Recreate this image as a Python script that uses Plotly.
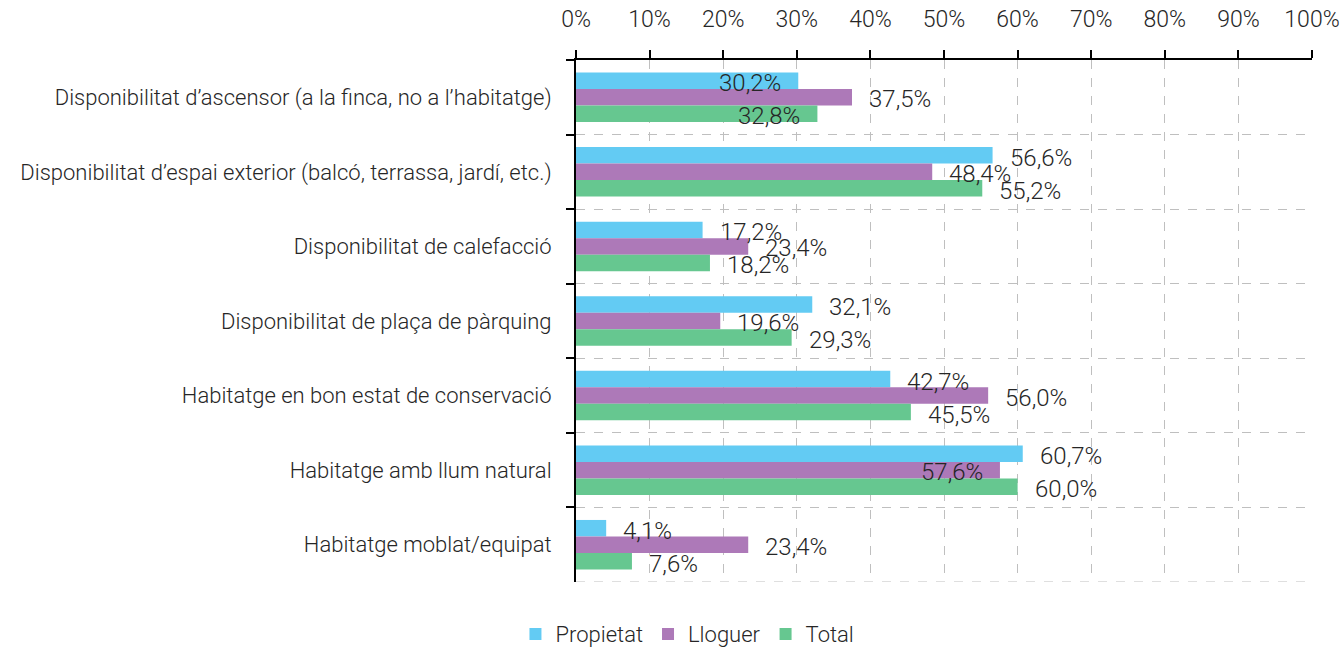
import plotly.graph_objects as go

# Categories (top to bottom) and percentage values per tenure type
categories = [
    "Disponibilitat d’ascensor (a la finca, no a l’habitatge)",
    "Disponibilitat d’espai exterior (balcó, terrassa, jardí, etc.)",
    "Disponibilitat de calefacció",
    "Disponibilitat de plaça de pàrquing",
    "Habitatge en bon estat de conservació",
    "Habitatge amb llum natural",
    "Habitatge moblat/equipat",
]
propietat = [30.2, 56.6, 17.2, 32.1, 42.7, 60.7, 4.1]
lloguer = [37.5, 48.4, 23.4, 19.6, 56.0, 57.6, 23.4]
total = [32.8, 55.2, 18.2, 29.3, 45.5, 60.0, 7.6]

series_names = ["Propietat", "Lloguer", "Total"]
series_values = [propietat, lloguer, total]
colors = ["#63CBF3", "#AD79B8", "#66C790"]

# Label placement: True = label drawn inside the bar end, False = outside
label_inside = [
    [True, False, False, False, False, False, False],
    [False, False, False, False, False, True, False],
    [True, False, False, False, False, False, False],
]
label_yshift = [14, -2, -19]

FONT = "Roboto, sans-serif"
TXT = "#262626"
FW = 300

fig = go.Figure()
for name, vals, col in zip(series_names, series_values, colors):
    fig.add_trace(go.Bar(
        y=categories, x=vals, name=name, orientation="h",
        marker=dict(color=col, line=dict(width=0)),
    ))

annotations = []
for s, vals in enumerate(series_values):
    for i, v in enumerate(vals):
        inside = label_inside[s][i]
        annotations.append(dict(
            x=v, y=categories[i], xref="x", yref="y",
            text=f"{v:.1f}".replace(".", ",") + "%",
            showarrow=False,
            xanchor="right" if inside else "left",
            xshift=-15 if inside else 15,
            yshift=label_yshift[s],
            font=dict(family=FONT, size=24, color=TXT, weight=FW),
        ))

fig.update_layout(
    width=1344, height=647,
    margin=dict(l=576, r=32, t=60, b=65, autoexpand=False),
    paper_bgcolor="white", plot_bgcolor="white",
    barmode="group", bargap=0.336, bargroupgap=0,
    font=dict(family=FONT, size=23, color=TXT, weight=FW),
    annotations=annotations,
    showlegend=True,
    legend=dict(
        orientation="h", x=0.5115, xanchor="center", xref="container",
        y=-0.14, yanchor="bottom",
        font=dict(family=FONT, size=22, color=TXT, weight=FW),
        traceorder="normal",
    ),
    # dashed rule closing the bottom of the last category band
    shapes=[dict(
        type="line", xref="x", yref="y", x0=0, x1=100, y0=6.5, y1=6.5,
        line=dict(color="#BFBFBF", width=1, dash="dash"), layer="below",
    )],
)

fig.update_xaxes(
    side="top", range=[0, 100], dtick=10, ticksuffix="%", automargin=False,
    showline=True, linecolor="black", linewidth=2,
    ticks="outside", ticklen=8, tickwidth=2, tickcolor="black",
    showgrid=True, gridcolor="#BFBFBF", griddash="dash", gridwidth=1,
    zeroline=False, ticklabelstandoff=14,
    tickfont=dict(family=FONT, size=23, color=TXT, weight=FW),
)
fig.update_yaxes(
    range=[6.5, -0.5], tickson="boundaries", automargin=False,
    showline=True, linecolor="black", linewidth=2,
    ticks="outside", ticklen=8, tickwidth=2, tickcolor="black",
    showgrid=True, gridcolor="#BFBFBF", griddash="dash", gridwidth=1,
    ticklabelstandoff=18,
    tickfont=dict(family=FONT, size=22, color=TXT, weight=FW),
)

fig.write_html("out.html")
